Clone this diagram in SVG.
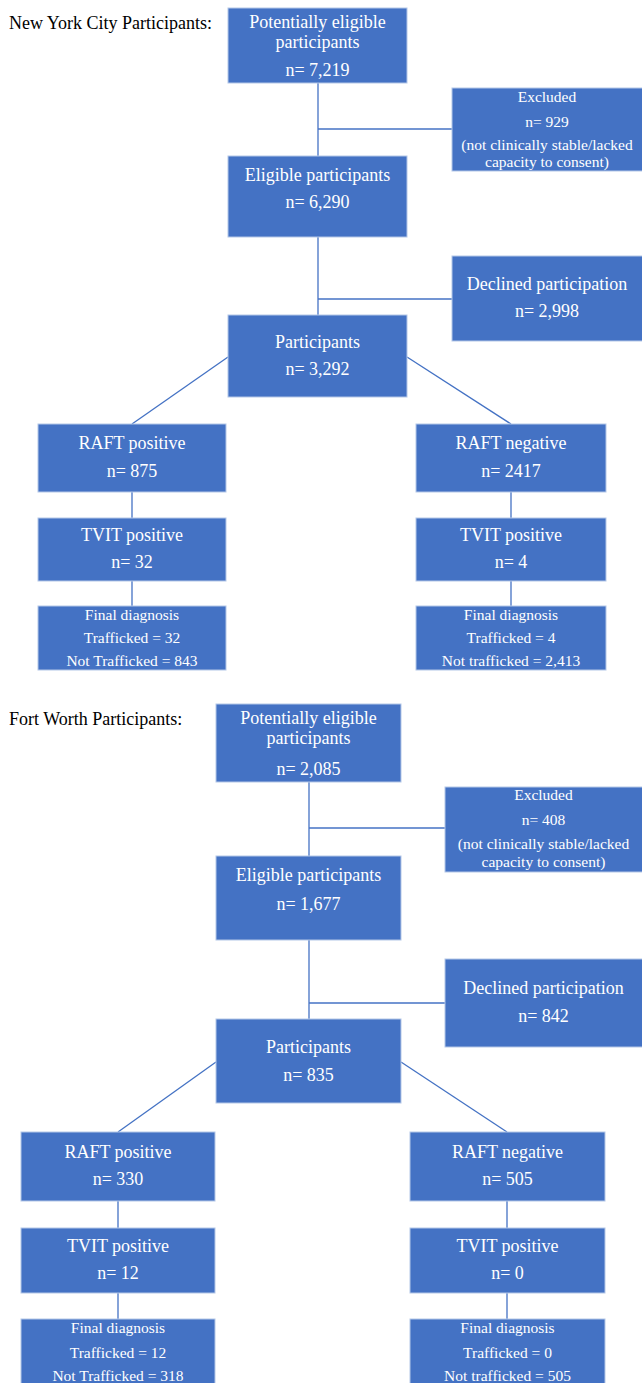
<svg xmlns="http://www.w3.org/2000/svg" width="642" height="1383" viewBox="0 0 642 1383">
<style>
.box{fill:#4472C4;stroke:#B4C7E7;stroke-width:1}
.t{font-family:"Liberation Serif","Times New Roman",serif;font-size:18px;fill:#ffffff;text-anchor:middle}
.s{font-family:"Liberation Serif","Times New Roman",serif;font-size:15.5px;fill:#ffffff;text-anchor:middle}
.title{font-family:"Liberation Serif","Times New Roman",serif;font-size:18px;fill:#000000}
.c{stroke:#4472C4;stroke-width:1.3;fill:none}
</style>
<rect width="642" height="1383" fill="#ffffff"/>
<text class="title" x="9" y="29">New York City Participants:</text>
<text class="title" x="9" y="725">Fort Worth Participants:</text>
<g id="connectors">
<line class="c" x1="318" y1="83" x2="318" y2="156"/>
<line class="c" x1="318" y1="129" x2="452" y2="129"/>
<line class="c" x1="318" y1="237" x2="318" y2="315"/>
<line class="c" x1="318" y1="299" x2="452" y2="299"/>
<line class="c" x1="228" y1="357" x2="132" y2="424"/>
<line class="c" x1="407" y1="357" x2="511" y2="424"/>
<line class="c" x1="132" y1="492" x2="132" y2="518"/>
<line class="c" x1="511" y1="492" x2="511" y2="518"/>
<line class="c" x1="132" y1="581" x2="132" y2="606"/>
<line class="c" x1="511" y1="581" x2="511" y2="606"/>
<line class="c" x1="309" y1="782" x2="309" y2="856"/>
<line class="c" x1="309" y1="828" x2="445" y2="828"/>
<line class="c" x1="309" y1="940" x2="309" y2="1019"/>
<line class="c" x1="309" y1="1003" x2="445" y2="1003"/>
<line class="c" x1="216" y1="1062" x2="118" y2="1132"/>
<line class="c" x1="401" y1="1062" x2="507" y2="1132"/>
<line class="c" x1="118" y1="1201" x2="118" y2="1228"/>
<line class="c" x1="507" y1="1201" x2="507" y2="1228"/>
<line class="c" x1="118" y1="1293" x2="118" y2="1319"/>
<line class="c" x1="507" y1="1293" x2="507" y2="1319"/>
</g>
<g id="nyc-potential"><rect class="box" x="228" y="8" width="179" height="75"/>
<text class="t" x="317.5" y="28">Potentially eligible</text><text class="t" x="317.5" y="48">participants</text><text class="t" x="317.5" y="76">n= 7,219</text></g>
<g id="nyc-excluded"><rect class="box" x="452" y="88" width="191" height="83"/>
<text class="s" x="547" y="102">Excluded</text><text class="s" x="547" y="127">n= 929</text><text class="s" x="547" y="150">(not clinically stable/lacked</text><text class="s" x="547" y="167">capacity to consent)</text></g>
<g id="nyc-eligible"><rect class="box" x="228" y="156" width="179" height="81"/>
<text class="t" x="317.5" y="181">Eligible participants</text><text class="t" x="317.5" y="208">n= 6,290</text></g>
<g id="nyc-declined"><rect class="box" x="452" y="256" width="191" height="85"/>
<text class="t" x="547" y="290">Declined participation</text><text class="t" x="547" y="317">n= 2,998</text></g>
<g id="nyc-participants"><rect class="box" x="228" y="315" width="179" height="82"/>
<text class="t" x="317.5" y="348">Participants</text><text class="t" x="317.5" y="375">n= 3,292</text></g>
<g id="nyc-raft-pos"><rect class="box" x="38" y="424" width="188" height="68"/>
<text class="t" x="132" y="449">RAFT positive</text><text class="t" x="132" y="477">n= 875</text></g>
<g id="nyc-raft-neg"><rect class="box" x="416" y="424" width="190" height="68"/>
<text class="t" x="511" y="449">RAFT negative</text><text class="t" x="511" y="477">n= 2417</text></g>
<g id="nyc-tvit-pos-l"><rect class="box" x="38" y="518" width="188" height="63"/>
<text class="t" x="132" y="541">TVIT positive</text><text class="t" x="132" y="568">n= 32</text></g>
<g id="nyc-tvit-pos-r"><rect class="box" x="416" y="518" width="190" height="63"/>
<text class="t" x="511" y="541">TVIT positive</text><text class="t" x="511" y="568">n= 4</text></g>
<g id="nyc-final-l"><rect class="box" x="38" y="606" width="188" height="64"/>
<text class="s" x="132" y="620">Final diagnosis</text><text class="s" x="132" y="643">Trafficked = 32</text><text class="s" x="132" y="666">Not Trafficked = 843</text></g>
<g id="nyc-final-r"><rect class="box" x="416" y="606" width="190" height="64"/>
<text class="s" x="511" y="620">Final diagnosis</text><text class="s" x="511" y="643">Trafficked = 4</text><text class="s" x="511" y="666">Not trafficked = 2,413</text></g>
<g id="fw-potential"><rect class="box" x="216" y="704" width="185" height="78"/>
<text class="t" x="308.5" y="724">Potentially eligible</text><text class="t" x="308.5" y="744">participants</text><text class="t" x="308.5" y="775">n= 2,085</text></g>
<g id="fw-excluded"><rect class="box" x="445" y="787" width="198" height="85"/>
<text class="s" x="543.5" y="800">Excluded</text><text class="s" x="543.5" y="825">n= 408</text><text class="s" x="543.5" y="849">(not clinically stable/lacked</text><text class="s" x="543.5" y="867">capacity to consent)</text></g>
<g id="fw-eligible"><rect class="box" x="216" y="856" width="185" height="84"/>
<text class="t" x="308.5" y="881">Eligible participants</text><text class="t" x="308.5" y="910">n= 1,677</text></g>
<g id="fw-declined"><rect class="box" x="445" y="959" width="198" height="88"/>
<text class="t" x="543.5" y="994">Declined participation</text><text class="t" x="543.5" y="1022">n= 842</text></g>
<g id="fw-participants"><rect class="box" x="216" y="1019" width="185" height="84"/>
<text class="t" x="308.5" y="1053">Participants</text><text class="t" x="308.5" y="1081">n= 835</text></g>
<g id="fw-raft-pos"><rect class="box" x="21" y="1132" width="194" height="69"/>
<text class="t" x="118" y="1158">RAFT positive</text><text class="t" x="118" y="1185">n= 330</text></g>
<g id="fw-raft-neg"><rect class="box" x="410" y="1132" width="195" height="69"/>
<text class="t" x="507.5" y="1158">RAFT negative</text><text class="t" x="507.5" y="1185">n= 505</text></g>
<g id="fw-tvit-pos-l"><rect class="box" x="21" y="1228" width="194" height="65"/>
<text class="t" x="118" y="1252">TVIT positive</text><text class="t" x="118" y="1279">n= 12</text></g>
<g id="fw-tvit-pos-r"><rect class="box" x="410" y="1228" width="195" height="65"/>
<text class="t" x="507.5" y="1252">TVIT positive</text><text class="t" x="507.5" y="1279">n= 0</text></g>
<g id="fw-final-l"><rect class="box" x="21" y="1319" width="194" height="70"/>
<text class="s" x="118" y="1333">Final diagnosis</text><text class="s" x="118" y="1358">Trafficked = 12</text><text class="s" x="118" y="1381">Not Trafficked = 318</text></g>
<g id="fw-final-r"><rect class="box" x="410" y="1319" width="195" height="70"/>
<text class="s" x="507.5" y="1333">Final diagnosis</text><text class="s" x="507.5" y="1358">Trafficked = 0</text><text class="s" x="507.5" y="1381">Not trafficked = 505</text></g>
</svg>
